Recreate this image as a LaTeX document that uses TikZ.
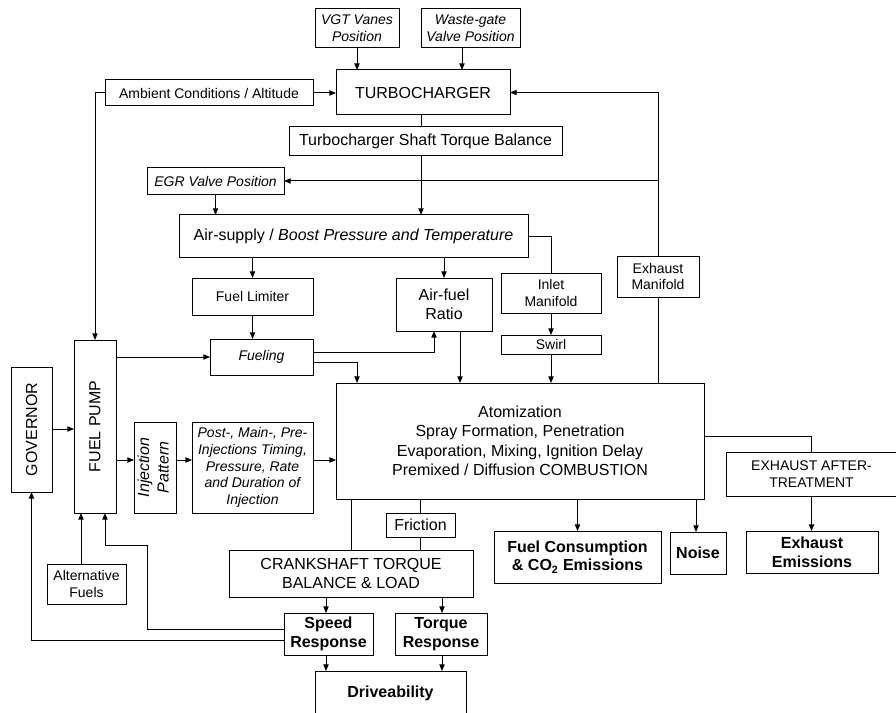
\documentclass[tikz,border=0pt]{standalone}
\usepackage{fontspec}
\setmainfont{Liberation Sans}
\usepackage{graphicx}
\usetikzlibrary{arrows.meta,calc}
\tikzset{wh/.style 2 args = {minimum width=#1*0.75pt, minimum height=#2*0.75pt}}

\begin{document}
\begin{tikzpicture}[x=0.75pt, y=-0.75pt, line width=0.75pt,
    box/.style = {draw, align=center, inner sep=1pt, outer sep=0pt, font=\fontsize{10.5}{12.6}\selectfont},
    it/.style = {font=\fontsize{10.5}{12.6}\selectfont\itshape},
    big/.style = {box, font=\fontsize{12}{14.6}\selectfont},
    heavy/.style = {box, font=\fontsize{12}{14}\selectfont\bfseries},
    arr/.style = {-{Triangle[length=5pt,width=4pt]}}]
    \useasboundingbox (0,0) rectangle (896,713);
    \clip (0,0) rectangle (896,713);
    % turbocharger and air path
    \node[box, it, wh={84}{39}] (vgt) at (357,28.5) {VGT Vanes\\Position};
    \node[box, it, wh={99}{39}] (wgate) at (470.5,28.5) {Waste-gate\\Valve Position};
    \node[big, wh={174}{45}] (turbo) at (423,92.5) {TURBOCHARGER};
    \node[box, wh={208}{26}] (amb) at (209,93) {Ambient Conditions / Altitude};
    \node[big, wh={273}{29}] (shaft) at (425.5,141.5) {Turbocharger Shaft Torque Balance};
    \node[box, it, wh={137}{27}] (egr) at (215.5,181) {EGR Valve Position};
    \node[big, wh={349}{42}] (air) at (353.5,236) {Air-supply / \textit{Boost Pressure and Temperature}};
    \node[box, wh={121}{37}] (flim) at (252.5,296.5) {Fuel Limiter};
    \node[big, wh={96}{53}] (afr) at (444,304.5) {Air-fuel\\Ratio};
    \node[box, it, wh={103}{36}] (fuel) at (261.5,357) {Fueling};
    \node[box, wh={100}{40}] (inlet) at (551,293) {Inlet\\Manifold};
    \node[box, wh={100}{19}] (swirl) at (551,344.5) {Swirl};
    \node[box, wh={82}{41}] (exman) at (658,276.5) {Exhaust\\Manifold};
    \node[big, wh={368}{116}] (comb) at (520,441) {Atomization\\Spray Formation, Penetration\\Evaporation, Mixing, Ignition Delay\\Premixed / Diffusion COMBUSTION};
    % fuel side
    \node[big, wh={42}{173}] (pump) at (95,426.5) {\rotatebox{90}{FUEL PUMP}};
    \node[big, wh={41}{125}] (gov) at (31.5,429.5) {\rotatebox{90}{GOVERNOR}};
    \node[big, wh={42}{91}] (injp) at (155,467.5) {\rotatebox{90}{\itshape\begin{tabular}{@{}c@{}}Injection\\Pattern\end{tabular}}};
    \node[box, it, wh={121}{91}] (post) at (252.5,467.5) {Post-, Main-, Pre-\\Injections Timing,\\Pressure, Rate\\and Duration of\\Injection};
    \node[box, wh={79}{40}] (alt) at (86.5,584) {Alternative\\Fuels};
    % outputs
    \node[box, wh={171}{44}] (after) at (811.5,474) {EXHAUST AFTER-\\TREATMENT};
    \node[heavy, wh={132}{42}] (exem) at (812,552) {Exhaust\\Emissions};
    \node[heavy, wh={167}{52}] (fc) at (577.5,557) {Fuel Consumption\\\& CO\textsubscript{2} Emissions};
    \node[heavy, wh={56}{42}] (noise) at (698,553) {Noise};
    \node[big, wh={69}{24}] (fric) at (420.5,525) {Friction};
    \node[big, wh={244}{47}] (crank) at (351,573.5) {CRANKSHAFT TORQUE\\BALANCE \& LOAD};
    \node[heavy, wh={89}{42}] (speed) at (328.5,634) {Speed\\Response};
    \node[heavy, wh={92}{42}] (torque) at (441,634) {Torque\\Response};
    \node[heavy, wh={151}{45}] (drive) at (390.5,693.5) {Driveability};
    % connectors, top part
    \draw[arr] (vgt.south) -- (vgt.south |- turbo.north);
    \draw[arr] (462,0 |- wgate.south) -- (462,0 |- turbo.north);
    \draw[arr] (amb.east) -- (amb.east -| turbo.west);
    \draw[arr] (amb.west) -| (pump.north);
    \draw (421,0 |- turbo.south) -- (421,0 |- shaft.north);
    \draw[arr] (421,0 |- shaft.south) -- (421,0 |- air.north);
    \draw[arr] (exman.north) |- (turbo.east);
    \draw[arr] (exman.north |- egr.east) -- (egr.east);
    \draw[arr] (egr.south) -- (egr.south |- air.north);
    \draw[arr] (flim.north |- air.south) -- (flim.north);
    \draw[arr] (afr.north |- air.south) -- (afr.north);
    \draw (air.east) -| (inlet.north);
    \draw[arr] (inlet.south) -- (swirl.north);
    \draw[arr] (swirl.south) -- (swirl.south |- comb.north);
    \draw (exman.south) -- (exman.south |- comb.north);
    \draw[arr] (flim.south) -- (flim.south |- fuel.north);
    \draw[arr] (pump.east |- fuel.west) -- (fuel.west);
    \draw[arr] ($(fuel.east)+(0,-5)$) -| (434,0 |- afr.south);
    \draw[arr] ($(fuel.east)+(0,5)$) -| (357,0 |- comb.north);
    \draw[arr] (460,0 |- afr.south) -- (460,0 |- comb.north);
    % fuel injection path
    \draw[arr] (gov.east |- 0,429) -- (pump.west |- 0,429);
    \draw[arr] (pump.east |- 0,460) -- (injp.west |- 0,460);
    \draw[arr] (injp.east |- 0,460) -- (post.west |- 0,460);
    \draw[arr] (post.east |- 0,460) -- (comb.west |- 0,460);
    % outputs
    \draw ($(comb.east)+(0,-5)$) -| (after.north);
    \draw[arr] (after.south) -- (after.south |- exem.north);
    \draw[arr] (fc.north |- comb.south) -- (fc.north);
    \draw[arr] (696,0 |- comb.south) -- (696,0 |- noise.north);
    \draw (crank.north |- comb.south) -- (crank.north);
    \draw (fric.north |- comb.south) -- (fric.north);
    \draw (fric.south) -- (fric.south |- crank.north);
    \draw[arr] (326,0 |- crank.south) -- (326,0 |- speed.north);
    \draw[arr] (442,0 |- crank.south) -- (442,0 |- torque.north);
    \draw[arr] (326,0 |- speed.south) -- (326,0 |- drive.north);
    \draw[arr] (442,0 |- torque.south) -- (442,0 |- drive.north);
    % feedback to pump and governor
    \draw[arr] (speed.west |- 0,629) -| (147,545) -| (105,0 |- pump.south);
    \draw[arr] (speed.west |- 0,640) -| (gov.south);
    \draw[arr] (81,0 |- alt.north) -- (81,0 |- pump.south);
\end{tikzpicture}
\end{document}
